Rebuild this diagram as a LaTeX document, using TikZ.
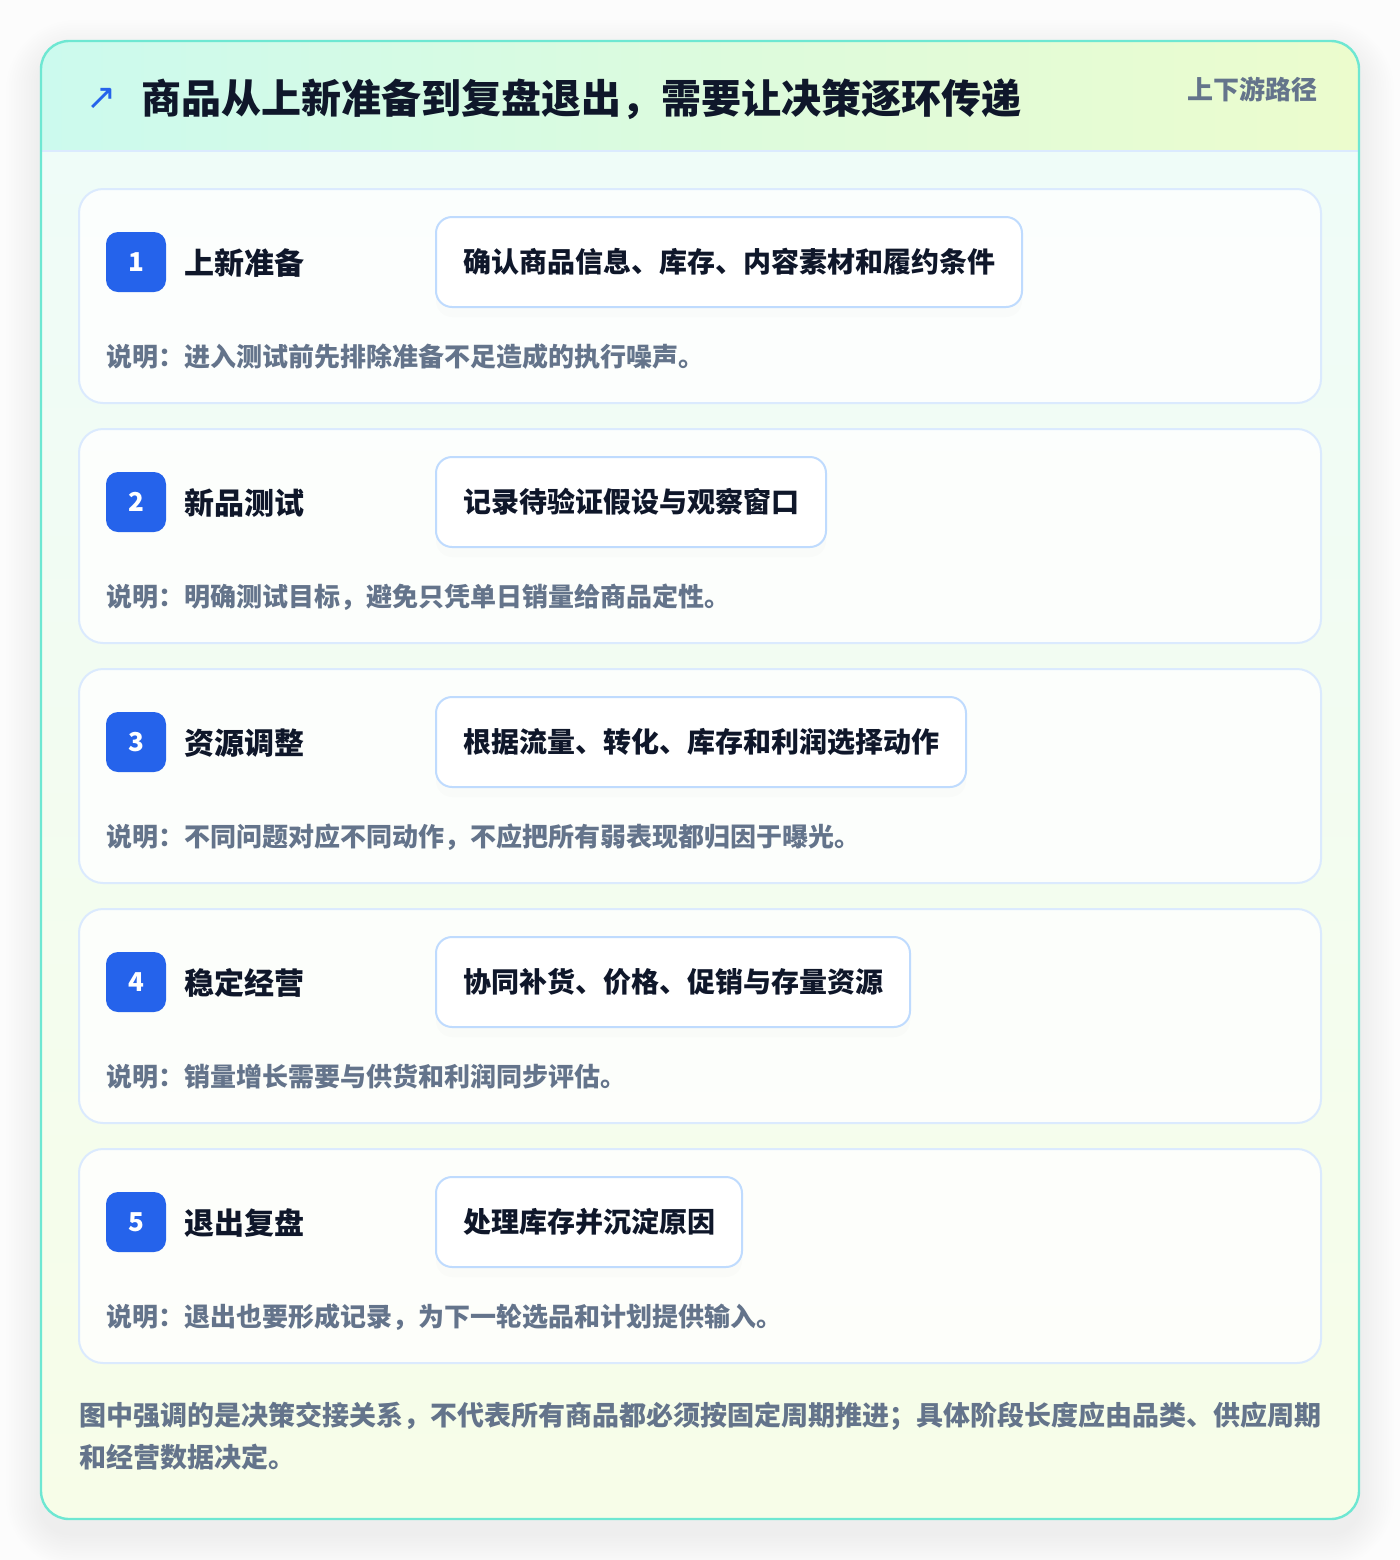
\documentclass[tikz,border=0pt]{standalone}
\usepackage{fontspec}
\setmainfont{Noto Sans CJK SC}
\newfontfamily\symfont{DejaVu Sans}
\usetikzlibrary{shadows}
\definecolor{ink}{HTML}{0F172A}
\definecolor{slate}{HTML}{64748B}
\definecolor{badgeblue}{HTML}{2563EB}
\definecolor{cardline}{HTML}{DBEAFE}
\definecolor{boxline}{HTML}{BFDBFE}
\definecolor{rim}{HTML}{6EE7D2}
\definecolor{headl}{HTML}{CCFAEE}
\definecolor{headr}{HTML}{ECFCCD}
\definecolor{bodytop}{HTML}{EFFCF8}
\definecolor{bodybot}{HTML}{F7FDE8}
\tikzset{
  card/.style={draw=cardline, line width=1pt, fill=white, fill opacity=0.8,
    rounded corners=12pt, minimum width=621pt, minimum height=107pt},
  badge/.style={fill=badgeblue, text=white, rounded corners=6pt, minimum size=30pt,
    inner sep=0pt, font=\bfseries\fontsize{13}{13}\selectfont},
  stage/.style={anchor=west, inner sep=0pt, text=ink, font=\bfseries\fontsize{15}{15}\selectfont},
  task/.style={anchor=west, draw=boxline, line width=1pt, fill=white, rounded corners=8pt,
    minimum height=45pt, inner xsep=13.5pt, inner ysep=0pt, text=ink,
    drop shadow={opacity=0.025, shadow xshift=0pt, shadow yshift=-5pt},
    font=\bfseries\fontsize{14}{14}\selectfont},
  note/.style={anchor=west, inner sep=0pt, text=slate, font=\bfseries\fontsize{13}{13}\selectfont},
}
\begin{document}
\begin{tikzpicture}[x=0.5pt, y=-0.5pt]
  \fill[white!99!black] (0,0) rectangle (1400,1560);
  \useasboundingbox (0,0) rectangle (1400,1560);
  % soft shadow under the panel
  \foreach \k [evaluate=\k as \r using 14+1.5*\k] in {1,...,14}
    \fill[black, opacity=0.004, rounded corners=\r pt]
      (41-2.5*\k, 55-2.5*\k) rectangle (1359+2.5*\k, 1533+2.5*\k);
  \begin{scope}
    \clip[rounded corners=14pt] (41,41) rectangle (1359,1519);
    \fill[top color=bodytop, bottom color=bodybot] (41,151) rectangle (1359,1519);
    \fill[left color=headl, right color=headr] (41,41) rectangle (1359,151);
    \draw[cardline, line width=1pt] (41,151) -- (1359,151);
  \end{scope}
  \draw[rim, line width=1.2pt, rounded corners=14pt] (41,41) rectangle (1359,1519);

  % header
  \node[anchor=west, inner sep=0pt, text=badgeblue, font=\symfont\fontsize{18}{18}\selectfont] (icon) at (86,99) {↗};
  \node[anchor=west, inner sep=0pt, text=ink, font=\bfseries\fontsize{20}{20}\selectfont] (title) at (141,99)
    {商品从上新准备到复盘退出，需要让决策逐环传递};
  \node[anchor=east, inner sep=0pt, text=slate, font=\bfseries\fontsize{13}{13}\selectfont] (tag) at (1318,89)
    {上下游路径};

  % stage 1
  \node[card] (card1) at (700,296) {};
  \node[badge] (badge1) at (136,262) {1};
  \node[stage] (stage1) at (184,263) {上新准备};
  \node[task] (task1) at (435,262) {确认商品信息、库存、内容素材和履约条件};
  \node[note] (note1) at (106,357) {说明：进入测试前先排除准备不足造成的执行噪声。};

  % stage 2
  \node[card] (card2) at (700,536) {};
  \node[badge] (badge2) at (136,502) {2};
  \node[stage] (stage2) at (184,503) {新品测试};
  \node[task] (task2) at (435,502) {记录待验证假设与观察窗口};
  \node[note] (note2) at (106,597) {说明：明确测试目标，避免只凭单日销量给商品定性。};

  % stage 3
  \node[card] (card3) at (700,776) {};
  \node[badge] (badge3) at (136,742) {3};
  \node[stage] (stage3) at (184,743) {资源调整};
  \node[task] (task3) at (435,742) {根据流量、转化、库存和利润选择动作};
  \node[note] (note3) at (106,837) {说明：不同问题对应不同动作，不应把所有弱表现都归因于曝光。};

  % stage 4
  \node[card] (card4) at (700,1016) {};
  \node[badge] (badge4) at (136,982) {4};
  \node[stage] (stage4) at (184,983) {稳定经营};
  \node[task] (task4) at (435,982) {协同补货、价格、促销与存量资源};
  \node[note] (note4) at (106,1077) {说明：销量增长需要与供货和利润同步评估。};

  % stage 5
  \node[card] (card5) at (700,1256) {};
  \node[badge] (badge5) at (136,1222) {5};
  \node[stage] (stage5) at (184,1223) {退出复盘};
  \node[task] (task5) at (435,1222) {处理库存并沉淀原因};
  \node[note] (note5) at (106,1317) {说明：退出也要形成记录，为下一轮选品和计划提供输入。};

  % footer
  \node[anchor=west, inner sep=0pt, align=left, text=slate,
    font=\bfseries\fontsize{13.5}{21}\selectfont] (foot) at (79,1436)
    {图中强调的是决策交接关系，不代表所有商品都必须按固定周期推进；具体阶段长度应由品类、供应周期\\和经营数据决定。};
\end{tikzpicture}
\end{document}
